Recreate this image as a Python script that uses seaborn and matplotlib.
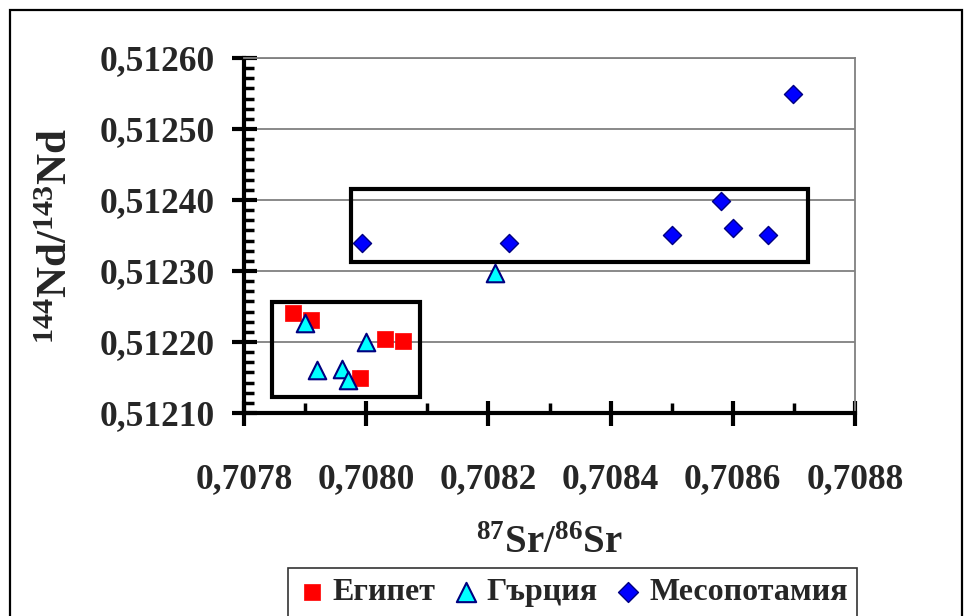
import matplotlib
matplotlib.use("Agg")
import matplotlib.pyplot as plt
from matplotlib.patches import Rectangle
from matplotlib.ticker import MultipleLocator, FuncFormatter
import seaborn as sns
import pandas as pd

# Values (87Sr/86Sr, 144Nd/143Nd)
egypt_sr = [0.70788, 0.70791, 0.70803, 0.70806, 0.70799]
egypt_nd = [0.512241, 0.512231, 0.512204, 0.512201, 0.512149]

greece_sr = [0.70790, 0.70800, 0.70792, 0.70796, 0.70797, 0.70821]
greece_nd = [0.512227, 0.512200, 0.512160, 0.512162, 0.512146, 0.512297]

meso_sr = [0.707993, 0.708233, 0.708500, 0.708581, 0.708600, 0.708658, 0.708699]
meso_nd = [0.512339, 0.512339, 0.512351, 0.512399, 0.512360, 0.512351, 0.512549]

group_names = ['Египет', 'Гърция', 'Месопотамия']

# boxes drawn round the two clusters: (x0, y0, x1, y1)
box_low = (0.707846, 0.512122, 0.708088, 0.512256)
box_high = (0.707975, 0.512312, 0.708723, 0.512416)

df = pd.DataFrame({
    'sr': egypt_sr + greece_sr + meso_sr,
    'nd': egypt_nd + greece_nd + meso_nd,
    'group': [group_names[0]] * len(egypt_sr) + [group_names[1]] * len(greece_sr)
             + [group_names[2]] * len(meso_sr),
})

sns.set_theme(style='white')
plt.rcParams['font.family'] = ['Liberation Serif', 'DejaVu Serif']
plt.rcParams['font.weight'] = 'bold'
plt.rcParams['mathtext.fontset'] = 'custom'
plt.rcParams['mathtext.rm'] = 'Liberation Serif:bold'
plt.rcParams['mathtext.bf'] = 'Liberation Serif:bold'

fig = plt.figure(figsize=(9.64, 6.16), dpi=100)
ax = fig.add_axes([244 / 964, 1 - 413 / 616, 611 / 964, 355 / 616])

# marker style per group (same look as the old Excel chart)
styles = {
    group_names[0]: dict(marker='s', color='#ff0000', edgecolor='#ff0000', s=120, linewidth=0.5),
    group_names[1]: dict(marker='^', color='#00ffff', edgecolor='#000080', s=160, linewidth=1.5),
    group_names[2]: dict(marker='D', color='#0000ff', edgecolor='#000080', s=85, linewidth=1.0),
}
for g in group_names:
    sns.scatterplot(data=df[df['group'] == g], x='sr', y='nd', ax=ax, label=g,
                    zorder=3, clip_on=False, **styles[g])

ax.set_xlim(0.7078, 0.7088)
ax.set_ylim(0.5121, 0.5126)

ax.xaxis.set_major_locator(MultipleLocator(0.0002))
ax.xaxis.set_minor_locator(MultipleLocator(0.0001))
ax.yaxis.set_major_locator(MultipleLocator(0.0001))
ax.yaxis.set_minor_locator(MultipleLocator(0.0001 / 7))
ax.xaxis.set_major_formatter(FuncFormatter(lambda v, p: f'{v:.4f}'.replace('.', ',')))
ax.yaxis.set_major_formatter(FuncFormatter(lambda v, p: f'{v:.5f}'.replace('.', ',')))

ax.tick_params(which='major', direction='inout', length=18, width=3, color='black',
               labelsize=25.5)
ax.tick_params(axis='x', which='major', pad=27)
ax.tick_params(axis='y', which='major', pad=12)
ax.tick_params(which='minor', direction='in', length=7, width=2.5, color='black')
ax.tick_params(left=True, bottom=True, which='both')

ax.grid(axis='y', which='major', color='#808080', linewidth=1.3)
ax.grid(axis='x', visible=False)
ax.set_axisbelow(True)

for side in ['left', 'bottom']:
    ax.spines[side].set_color('black')
    ax.spines[side].set_linewidth(3)
for side in ['top', 'right']:
    ax.spines[side].set_color('#808080')
    ax.spines[side].set_linewidth(1.3)

ax.set_xlabel(r'$\mathbf{^{87}Sr/^{86}Sr}$', fontsize=28)
ax.set_ylabel(r'$\mathbf{^{144}Nd/^{143}Nd}$', fontsize=31)
ax.xaxis.set_label_coords(0.5, -0.315)
ax.yaxis.set_label_coords(-0.275, 0.5)

for x0, y0, x1, y1 in [box_low, box_high]:
    ax.add_patch(Rectangle((x0, y0), x1 - x0, y1 - y0, fill=False, edgecolor='black',
                           linewidth=3, zorder=2, clip_on=False))

# legend along the bottom, cut by the picture edge
handles, labels = ax.get_legend_handles_labels()
ax.get_legend().remove()
leg = fig.legend(handles, labels, loc='upper left', bbox_to_anchor=(288 / 964, 1 - 568 / 616),
                 ncol=3, frameon=True, fancybox=False, edgecolor='black',
                 prop={'family': 'Liberation Serif', 'weight': 'bold', 'size': 23},
                 handletextpad=0.2, columnspacing=0.5, borderpad=0.3, handlelength=0.9,
                 borderaxespad=0, markerscale=1.1)
leg.get_frame().set_linewidth(1.2)

# outer chart frame
fig.patches.append(Rectangle((10 / 964, -0.1), 952 / 964, 1.1 - 10 / 616, fill=False,
                             edgecolor='black', linewidth=1.6, transform=fig.transFigure,
                             figure=fig))

fig.savefig('out.png', dpi=100)
